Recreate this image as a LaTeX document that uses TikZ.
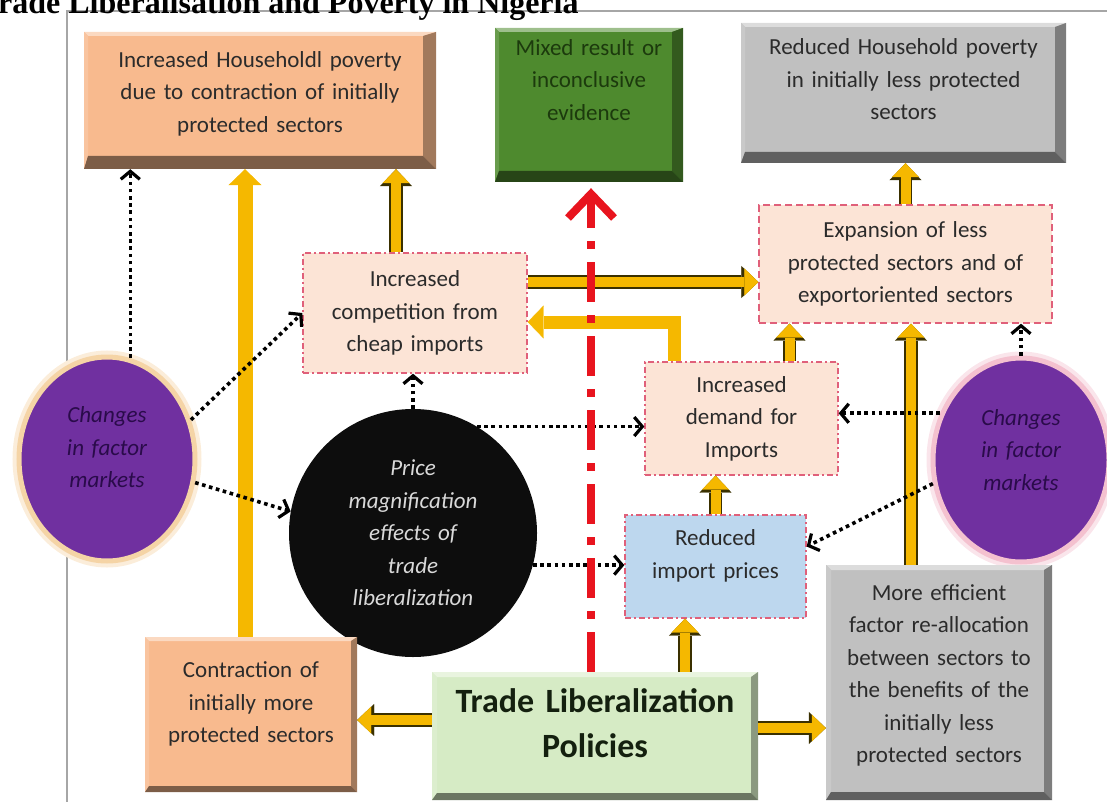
\documentclass[tikz,border=0pt]{standalone}
\usepackage{fontspec}
\setmainfont{Carlito}
\newfontfamily\titlefont{Liberation Serif}
\usetikzlibrary{positioning,arrows.meta,shapes.geometric}

\definecolor{hhorange}{HTML}{F8BA8E}
\definecolor{mixgreen}{HTML}{4E8A2E}
\definecolor{mixtext}{HTML}{1C3A0D}
\definecolor{povgray}{HTML}{C0C0C0}
\definecolor{pinkfill}{HTML}{FCE4D6}
\definecolor{pinkline}{HTML}{E0607A}
\definecolor{bluefill}{HTML}{BDD7EE}
\definecolor{tradegreen}{HTML}{D6EBC5}
\definecolor{tradetext}{HTML}{14200F}
\definecolor{purp}{HTML}{7030A0}
\definecolor{purptext}{HTML}{2A0B4A}
\definecolor{glowleft}{HTML}{F3CC96}
\definecolor{glowright}{HTML}{F2B6C6}
\definecolor{yellowarr}{HTML}{F5B800}
\definecolor{arrowline}{HTML}{3A3000}
\definecolor{redarr}{HTML}{E8141E}
\definecolor{textgray}{HTML}{2B2B2B}

\newcommand\lowpad[1]{\rule[-#1]{0pt}{0pt}}

\begin{document}
\begin{tikzpicture}[x=1pt,y=-1pt,
  txt/.style={font=\fontsize{23pt}{32.5pt}\selectfont, text=textgray, align=center, inner sep=0pt},
  bevel/.style n args={3}{txt, rectangle, fill=#1, path picture={
    \fill[#1!55!white] (path picture bounding box.north west) -- (path picture bounding box.north east)
      -- ([shift={(-#3,-#2)}]path picture bounding box.north east) -- ([shift={(#2,-#2)}]path picture bounding box.north west) -- cycle;
    \fill[#1!85!white] (path picture bounding box.north west) -- (path picture bounding box.south west)
      -- ([shift={(#2,#3)}]path picture bounding box.south west) -- ([shift={(#2,-#2)}]path picture bounding box.north west) -- cycle;
    \fill[#1!65!black] (path picture bounding box.north east) -- (path picture bounding box.south east)
      -- ([shift={(-#3,#3)}]path picture bounding box.south east) -- ([shift={(-#3,-#2)}]path picture bounding box.north east) -- cycle;
    \fill[#1!50!black] (path picture bounding box.south west) -- (path picture bounding box.south east)
      -- ([shift={(-#3,#3)}]path picture bounding box.south east) -- ([shift={(#2,#3)}]path picture bounding box.south west) -- cycle;
  }},
  pinkbox/.style={txt, rectangle, fill=pinkfill, draw=pinkline, line width=1.3pt, dash pattern=on 6pt off 3pt on 2pt off 3pt},
  factor/.style={txt, ellipse, fill=purp, text=purptext, font=\fontsize{23pt}{32.5pt}\selectfont\itshape,
    minimum width=176pt, minimum height=204pt, text width=120pt,
    draw=#1!85!white, line width=5pt, preaction={draw=#1!35!white, line width=13pt}},
  dotarrow/.style={line width=3.6pt, dash pattern=on 3.6pt off 3.6pt, -{Straight Barb[length=8pt,width=19pt,line width=3.2pt]}},
  yarrow/.style={draw=yellowarr, line width=10pt, -{Triangle[length=14pt,width=27pt,line width=0.4pt]},
    preaction={draw=arrowline, line width=13.5pt, -{Triangle[length=17pt,width=32pt,line width=0.4pt]}}},
  ybare/.style={draw=yellowarr, line width=#1, -{Triangle[length=16pt,width=33pt,line width=0.4pt]}},
  redarrow/.style={draw=redarr, line width=8pt, dash pattern=on 40pt off 13pt on 8pt off 13pt,
    -{Straight Barb[length=24pt,width=46pt,line width=8pt]}, shorten >=6pt}]
\useasboundingbox (0,0) rectangle (1107,802);
%
\draw[black!35, line width=1.2pt] (67,11) rectangle (1140,840);
\node[anchor=base west, inner sep=0pt, font=\titlefont\bfseries\fontsize{32pt}{32pt}\selectfont] (title) at (-21,14) {Trade Liberalisation and Poverty in Nigeria};
%
\node[bevel={hhorange}{4pt}{13pt}, minimum width=352pt, minimum height=137pt, text width=340pt] (hhpov) at (260,100.5) {Increased Householdl poverty\\ due to contraction of initially\\ protected sectors\lowpad{17pt}};
\node[bevel={mixgreen}{4pt}{11pt}, text=mixtext, minimum width=188pt, minimum height=154pt, text width=180pt] (mixed) at (589,105) {Mixed result or\\ inconclusive\\ evidence\lowpad{50pt}};
\node[bevel={povgray}{4pt}{11pt}, minimum width=325pt, minimum height=140pt, text width=315pt] (redpov) at (903.5,93) {Reduced Household poverty\\ in initially less protected\\ sectors\lowpad{27pt}};
\node[pinkbox, minimum width=224pt, minimum height=120pt, text width=215pt] (compet) at (415,313) {Increased\\ competition from\\ cheap imports};
\node[pinkbox, dash pattern=on 7pt off 4pt, minimum width=293pt, minimum height=118pt, text width=285pt] (expand) at (905.5,264) {Expansion of less\\ protected sectors and of\\ exportoriented sectors};
\node[pinkbox, minimum width=193pt, minimum height=113pt, text width=185pt] (demand) at (741.5,418.5) {Increased\\ demand for\\ Imports};
\node[pinkbox, fill=bluefill, minimum width=181pt, minimum height=103pt, text width=175pt] (reduced) at (715.5,566.5) {Reduced\\ import prices\lowpad{25pt}};
\node[txt, circle, font=\fontsize{23pt}{32.5pt}\selectfont\itshape, fill=black!95, text=white!85!black, minimum size=248pt, text width=160pt] (price) at (413,533) {Price\\ magnification\\ effects of\\ trade\\ liberalization};
\node[factor=glowleft] (lfac) at (107,459) {Changes\\ in factor\\ markets\lowpad{23pt}};
\node[factor=glowright] (rfac) at (1021,460) {Changes\\ in factor\\ markets\lowpad{20pt}};
\node[bevel={hhorange}{4pt}{6pt}, minimum width=212pt, minimum height=155pt, text width=205pt] (contr) at (251,714.5) {Contraction of\\ initially more\\ protected sectors\lowpad{24pt}};
\node[bevel={tradegreen}{5pt}{7pt}, font=\fontsize{34pt}{45pt}\selectfont\bfseries, text=tradetext, minimum width=326pt, minimum height=128pt, text width=320pt] (trade) at (595,736) {Trade Liberalization\\ Policies\lowpad{25pt}};
\node[bevel={povgray}{5pt}{8pt}, minimum width=226pt, minimum height=235pt, text width=220pt] (effic) at (939,682.5) {More efficient\\ factor re-allocation\\ between sectors to\\ the benefits of the\\ initially less\\ protected sectors\lowpad{18pt}};
%
\draw[ybare=15pt] ([xshift=-6pt]contr.north) -- ([xshift=-6pt]contr.north |- hhpov.south);
\draw[yarrow] ([xshift=-19pt]compet.north) -- ([xshift=-19pt]compet.north |- hhpov.south);
\draw[yarrow] ([yshift=31pt]compet.east) -- ([yshift=31pt]compet.east -| expand.west);
\draw[ybare=13pt] ([xshift=-67pt]demand.north) |- ([yshift=-9pt]compet.east);
\draw[yarrow] ([xshift=48pt]demand.north) -- ([xshift=48pt]demand.north |- expand.south);
\draw[yarrow] (expand.north) -- (expand.north |- redpov.south);
\draw[yarrow] ([xshift=-28pt]effic.north) -- ([xshift=-28pt]effic.north |- expand.south);
\draw[yarrow] (reduced.north) -- (reduced.north |- demand.south);
\draw[yarrow] ([xshift=90pt]trade.north) -- ([xshift=90pt]trade.north |- reduced.south);
\draw[yarrow] ([yshift=16pt]trade.west) -- ([yshift=16pt]trade.west -| contr.east);
\draw[yarrow] ([yshift=8pt]trade.east) -- ([yshift=8pt]trade.east -| effic.west);
%
\draw[dotarrow] (lfac.77) -- (lfac.77 |- hhpov.south);
\draw[dotarrow] (lfac.25) -- (compet.west);
\draw[dotarrow] (lfac.-15) -- (price.170);
\draw[dotarrow] (price.north) -- (price.north |- compet.south);
\draw[dotarrow] (price.59) -- (price.59 -| demand.west);
\draw[dotarrow] (price.-15) -- (price.-15 -| reduced.west);
\draw[dotarrow] (rfac.150) -- (rfac.150 -| demand.east);
\draw[dotarrow] (rfac.north) -- (rfac.north |- expand.south);
\draw[dotarrow] (rfac.195) -- ([yshift=20pt]reduced.east);
%
\draw[redarrow] ([xshift=-4pt]trade.north) -- ([xshift=-4pt]trade.north |- mixed.south);
\end{tikzpicture}
\end{document}
